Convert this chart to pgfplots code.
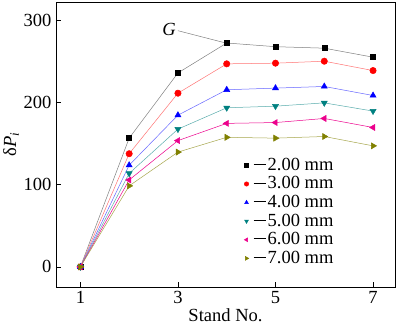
\documentclass[border=0pt]{standalone}
\usepackage{fontspec}
\setmainfont{Liberation Serif}
\usepackage{pgfplots}
\pgfplotsset{compat=1.18}
\definecolor{cteal}{RGB}{0,128,128}
\definecolor{colive}{RGB}{128,128,0}
\newcommand{\dash}{\hspace{5pt}\rule[0.3em]{12pt}{0.8pt}\hspace{2pt}}
\begin{document}
\begin{tikzpicture}
\begin{axis}[
  scale only axis, width=339pt, height=285pt,
  xmin=0.5, xmax=7.45, ymin=-24.5, ymax=323,
  xtick={1,3,5,7}, ytick={0,100,200,300},
  tick pos=left, tick align=inside,
  major tick length=5pt,
  axis line style={line width=0.9pt},
  every tick/.style={line width=0.8pt,black},
  /pgf/number format/assume math mode=true,
  tick label style={font=\fontsize{18.5}{20}\selectfont},
  yticklabel style={xshift=-1pt},
  xticklabel style={yshift=-1pt},
  label style={font=\fontsize{18.5}{20}\selectfont},
  xlabel={Stand No.}, ylabel={δ\textit{P}\textsubscript{\textit{i}}},
  xlabel style={yshift=2pt},
  ylabel style={yshift=-2pt},
  legend style={draw=none, fill=none, at={(rel axis cs:0.555,0.452)}, anchor=north west,
    font=\fontsize{18.5}{18.5}\selectfont, row sep=4.6pt, column sep=0pt, inner sep=0pt,
    nodes={inner sep=0pt, text height=12pt, text depth=2pt}},
  legend cell align=left,
  legend image code/.code={\draw[#1, only marks, mark size=2.2pt] plot coordinates {(0pt,0pt)};},
  every axis plot/.append style={line width=0.5pt},
  clip=false,
]
\addplot[gray, mark=square*, mark size=2.5pt, mark options={black, fill=black}] coordinates {(1,0)(2,157)(3,236.5)(4,273)(5,268.5)(6,266.7)(7,255.7)};
\addlegendentry{\dash 2.00 mm}
\addplot[red!55, mark=*, mark size=3.2pt, mark options={red, fill=red}] coordinates {(1,0)(2,138)(3,211.8)(4,247.6)(5,248.4)(6,250.8)(7,239.4)};
\addlegendentry{\dash 3.00 mm}
\addplot[blue!60, mark=triangle*, mark size=3.5pt, mark options={blue, fill=blue}] coordinates {(1,0)(2,124)(3,185)(4,216)(5,218)(6,220)(7,209)};
\addlegendentry{\dash 4.00 mm}
\addplot[cteal!65, mark=triangle*, mark size=3.5pt, mark options={cteal, fill=cteal, rotate=180}] coordinates {(1,0)(2,114)(3,168)(4,194)(5,196)(6,200)(7,190)};
\addlegendentry{\dash 5.00 mm}
\addplot[magenta, mark=triangle*, mark size=3.5pt, mark options={magenta, fill=magenta, rotate=90}] coordinates {(1,0)(2,106)(3,154)(4,175)(5,176)(6,181)(7,170)};
\addlegendentry{\dash 6.00 mm}
\addplot[colive!70, mark=triangle*, mark size=3.5pt, mark options={colive, fill=colive, rotate=-90}] coordinates {(1,0)(2,98.8)(3,140)(4,158)(5,157)(6,159)(7,147.6)};
\addlegendentry{\dash 7.00 mm}
\draw[gray, line width=0.5pt] (axis cs:3.0,288) -- (axis cs:3.98,273);
\node[font=\fontsize{18.5}{20}\selectfont\itshape, anchor=east, inner sep=2pt] at (axis cs:3.0,290) {G};
\end{axis}
\pgfresetboundingbox
\path (current axis.south west) ++(-56pt,-42pt) rectangle ++(400pt,329pt);
\end{tikzpicture}
\end{document}
